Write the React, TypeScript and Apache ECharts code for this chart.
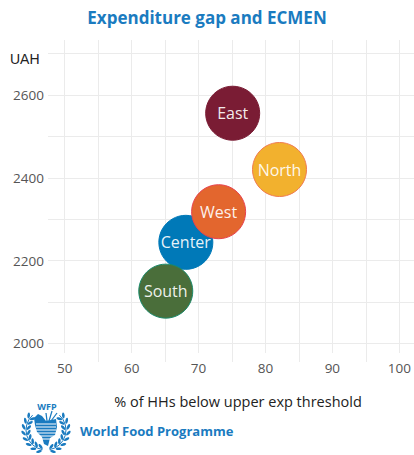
import React, { useEffect, useRef } from "react";
import * as echarts from "echarts";

const regions = ["Center", "South", "West", "North", "East"];
const pctBelowThreshold = [68.1, 65.1, 73.0, 82.1, 75.1];
const expenditureUAH = [2244, 2126, 2318, 2420, 2556];
const fillColors = ["#0079b8", "#4a6e3a", "#e3662e", "#f2b12e", "#7a1c34"];
const borderColors = ["#0079b8", "#1a8a6a", "#e8424e", "#f07b50", "#7a1c34"];

const BLUE = "#1a7bc0";

function buildLogo(): any[] {
  const cx = 46;
  const cy = 430;
  const R = 20;
  const els: any[] = [];
  els.push({
    type: "arc",
    shape: { cx, cy, r: R, startAngle: (100 * Math.PI) / 180, endAngle: (228 * Math.PI) / 180 },
    style: { stroke: BLUE, lineWidth: 1, fill: null },
  });
  els.push({
    type: "arc",
    shape: { cx, cy, r: R, startAngle: (-48 * Math.PI) / 180, endAngle: (80 * Math.PI) / 180 },
    style: { stroke: BLUE, lineWidth: 1, fill: null },
  });
  const tilt = (35 * Math.PI) / 180;
  for (let k = 0; k < 8; k++) {
    const t = 108 + k * 16;
    for (const side of [1, -1]) {
      const ang = side === 1 ? t : 180 - t;
      const a = (ang * Math.PI) / 180;
      const tx = side === 1 ? -Math.sin(a) : Math.sin(a);
      const ty = side === 1 ? Math.cos(a) : -Math.cos(a);
      const rx = Math.cos(a);
      const ry = Math.sin(a);
      for (const off of [2.6, -2.6]) {
        const rr = R + off;
        const sgn = off > 0 ? 1 : -1;
        const dx = tx * Math.cos(tilt) + sgn * rx * Math.sin(tilt);
        const dy = ty * Math.cos(tilt) + sgn * ry * Math.sin(tilt);
        els.push({
          type: "ellipse",
          x: cx + rr * Math.cos(a),
          y: cy + rr * Math.sin(a),
          rotation: Math.atan2(dx, dy),
          shape: { cx: 0, cy: 0, rx: 1.3, ry: 3 },
          style: { fill: BLUE },
        });
      }
    }
  }
  els.push({
    type: "polygon",
    shape: {
      points: [
        [34, 418], [38, 414], [42, 416], [46, 421], [56, 419], [57, 427], [55, 435],
        [50, 438], [48, 446], [44, 444], [42, 437], [37, 432], [35, 425],
      ],
    },
    style: { fill: BLUE },
  });
  for (let i = 0; i < 6; i++) {
    const y = 424 + i * 3;
    els.push({
      type: "line",
      shape: { x1: 36, y1: y, x2: 56, y2: y },
      style: { stroke: "#fff", lineWidth: 1 },
    });
  }
  els.push({ type: "line", shape: { x1: 49, y1: 421, x2: 52, y2: 411 }, style: { stroke: BLUE, lineWidth: 1.2 } });
  els.push({ type: "line", shape: { x1: 51, y1: 421, x2: 57, y2: 413 }, style: { stroke: BLUE, lineWidth: 1.2 } });
  els.push({ type: "line", shape: { x1: 47, y1: 421, x2: 46, y2: 413 }, style: { stroke: BLUE, lineWidth: 1.2 } });
  els.push({
    type: "text",
    x: 47,
    y: 406.5,
    style: {
      text: "WFP",
      fill: BLUE,
      font: "bold 9px 'Open Sans'",
      align: "center",
      verticalAlign: "middle",
    },
  });
  return els;
}

export default function App() {
  const ref = useRef<HTMLDivElement>(null);
  useEffect(() => {
    if (!ref.current) return;
    const chart = echarts.init(ref.current, null, { renderer: "svg" });
    const data = regions.map((r, i) => ({
      name: r,
      value: [pctBelowThreshold[i], expenditureUAH[i]],
      itemStyle: { color: fillColors[i], borderColor: borderColors[i], borderWidth: 1, opacity: 1 },
    }));
    chart.setOption({
      animation: false,
      backgroundColor: "#fff",
      title: {
        text: "Expenditure gap and ECMEN",
        left: "center",
        top: 4,
        textStyle: { color: BLUE, fontSize: 17, fontWeight: "bold", fontFamily: "'Open Sans'" },
      },
      grid: { left: 48, right: 0, top: 40, bottom: 102 },
      xAxis: {
        type: "value",
        min: 47.5,
        max: 102.2,
        axisLine: { show: false },
        axisTick: { show: false },
        minorTick: { show: true, splitNumber: 2, length: 9, lineStyle: { color: "#ebebeb" } },
        axisLabel: {
          showMinLabel: false,
          showMaxLabel: false,
          color: "#555",
          fontSize: 13.5,
          fontFamily: "'Open Sans'",
          margin: 8,
        },
        splitLine: { show: true, showMinLine: false, showMaxLine: false, lineStyle: { color: "#ebebeb" } },
        minorSplitLine: { show: true, lineStyle: { color: "#ebebeb" } },
      },
      yAxis: {
        type: "value",
        min: 1976.5,
        max: 2733,
        axisLine: { show: false },
        axisTick: { show: false },
        minorTick: { show: false, splitNumber: 2 },
        axisLabel: {
          showMinLabel: false,
          showMaxLabel: false,
          color: "#555",
          fontSize: 13.5,
          fontFamily: "'Open Sans'",
          margin: 4,
          formatter: (v: number) => String(v),
        },
        splitLine: { show: true, showMinLine: false, showMaxLine: false, lineStyle: { color: "#ebebeb" } },
        minorSplitLine: { show: true, lineStyle: { color: "#ebebeb" } },
      },
      series: [
        {
          type: "scatter",
          symbolSize: 54,
          data,
          label: {
            show: true,
            position: "inside",
            formatter: "{b}",
            color: "rgba(255,255,255,0.92)",
            fontSize: 16,
            fontFamily: "'Open Sans'",
          },
        },
      ],
      graphic: [
        {
          type: "text",
          left: 10,
          top: 52,
          style: { text: "UAH", fill: "#222", font: "14px 'Liberation Sans'" },
        },
        {
          type: "text",
          x: 238,
          y: 401,
          style: {
            text: "% of HHs below upper exp threshold",
            fill: "#222",
            font: "14.5px 'Open Sans'",
            align: "center",
            verticalAlign: "middle",
          },
        },
        {
          type: "text",
          x: 80,
          y: 431,
          style: {
            text: "World Food Programme",
            fill: BLUE,
            font: "bold 13px 'Open Sans'",
            align: "left",
            verticalAlign: "middle",
          },
        },
        ...buildLogo(),
      ],
    });
    return () => chart.dispose();
  }, []);
  return <div ref={ref} style={{ position: "fixed", left: 0, top: 0, width: 414, height: 455 }} />;
}
